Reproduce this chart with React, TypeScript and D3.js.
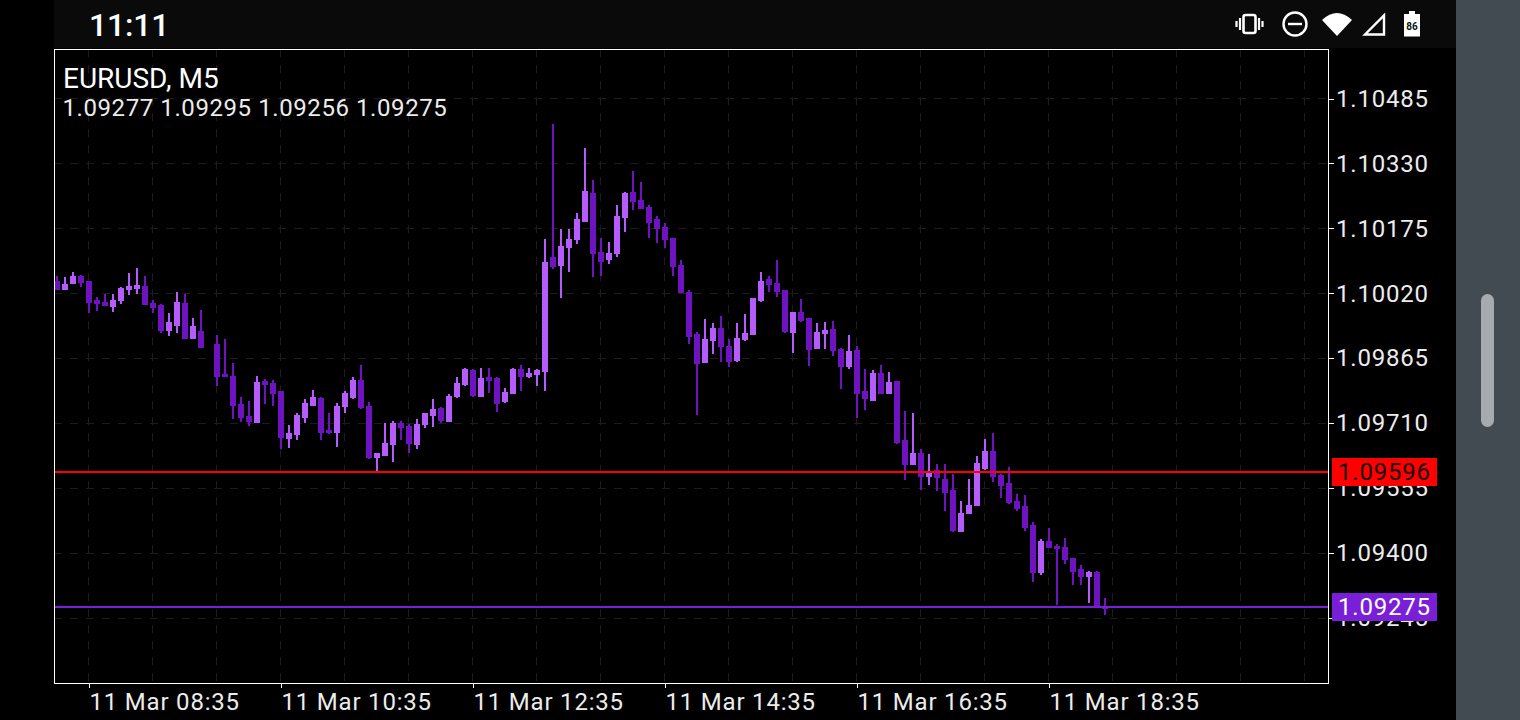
import React, { useEffect, useRef } from 'react';
import * as d3 from 'd3';

// bar 19 prints nothing on the chart, so it stays null
const opens = [
  1.10049, 1.10028, 1.10042, 1.10061, 1.10049, 1.10004, 1.09999, 1.09987, 1.10002, 1.10028,
  1.10030, 1.10037, 1.09997, 1.09992, 1.09930, 1.09942, 1.09997, 1.09911, 1.09930, null,
  1.09899, 1.09827, 1.09823, 1.09756, 1.09727, 1.09710, 1.09811, 1.09806, 1.09787, 1.09672,
  1.09682, 1.09722, 1.09751, 1.09770, 1.09694, 1.09687, 1.09749, 1.09770, 1.09813, 1.09751,
  1.09627, 1.09632, 1.09658, 1.09710, 1.09703, 1.09658, 1.09706, 1.09727, 1.09746, 1.09713,
  1.09773, 1.09801, 1.09837, 1.09773, 1.09820, 1.09818, 1.09761, 1.09780, 1.09839, 1.09820,
  1.09825, 1.09832, 1.10107, 1.10085, 1.10128, 1.10147, 1.10190, 1.10259, 1.10119, 1.10100,
  1.10114, 1.10200, 1.10262, 1.10243, 1.10226, 1.10197, 1.10178, 1.10152, 1.10088, 1.10023,
  1.09923, 1.09854, 1.09906, 1.09937, 1.09894, 1.09858, 1.09909, 1.09920, 1.10002, 1.10054,
  1.10044, 1.10028, 1.09925, 1.09975, 1.09961, 1.09887, 1.09923, 1.09935, 1.09887, 1.09844,
  1.09885, 1.09787, 1.09763, 1.09830, 1.09780, 1.09811, 1.09670, 1.09610, 1.09639, 1.09582,
  1.09598, 1.09577, 1.09551, 1.09450, 1.09494, 1.09512, 1.09601, 1.09644, 1.09587, 1.09567,
  1.09524, 1.09512, 1.09467, 1.09352, 1.09429, 1.09417, 1.09415, 1.09388, 1.09362, 1.09343,
  1.09355, 1.09271,
];
const highs = [
  1.10061, 1.10059, 1.10071, 1.10064, 1.10049, 1.10011, 1.10018, 1.10018, 1.10035, 1.10068,
  1.10080, 1.10061, 1.10004, 1.09994, 1.09973, 1.10023, 1.10018, 1.09961, 1.09980, null,
  1.09920, 1.09911, 1.09854, 1.09773, 1.09763, 1.09823, 1.09815, 1.09813, 1.09787, 1.09706,
  1.09734, 1.09768, 1.09789, 1.09773, 1.09734, 1.09758, 1.09787, 1.09820, 1.09849, 1.09761,
  1.09639, 1.09710, 1.09715, 1.09715, 1.09708, 1.09720, 1.09734, 1.09768, 1.09749, 1.09780,
  1.09820, 1.09842, 1.09839, 1.09842, 1.09842, 1.09820, 1.09794, 1.09842, 1.09849, 1.09842,
  1.09839, 1.10150, 1.10424, 1.10174, 1.10174, 1.10212, 1.10367, 1.10290, 1.10152, 1.10143,
  1.10231, 1.10262, 1.10312, 1.10286, 1.10231, 1.10205, 1.10188, 1.10152, 1.10100, 1.10028,
  1.09928, 1.09959, 1.09949, 1.09966, 1.09911, 1.09949, 1.09971, 1.10009, 1.10071, 1.10061,
  1.10100, 1.10028, 1.09975, 1.10006, 1.09961, 1.09949, 1.09952, 1.09954, 1.09889, 1.09920,
  1.09894, 1.09839, 1.09837, 1.09849, 1.09832, 1.09811, 1.09739, 1.09734, 1.09648, 1.09636,
  1.09612, 1.09612, 1.09589, 1.09524, 1.09577, 1.09632, 1.09672, 1.09687, 1.09589, 1.09605,
  1.09541, 1.09539, 1.09474, 1.09434, 1.09460, 1.09422, 1.09436, 1.09388, 1.09372, 1.09357,
  1.09357, 1.09293,
];
const lows = [
  1.10028, 1.10028, 1.10042, 1.10035, 1.09973, 1.09978, 1.09990, 1.09975, 1.09994, 1.10016,
  1.10018, 1.09992, 1.09973, 1.09925, 1.09918, 1.09925, 1.09911, 1.09911, 1.09889, null,
  1.09799, 1.09820, 1.09720, 1.09713, 1.09703, 1.09710, 1.09756, 1.09751, 1.09648, 1.09651,
  1.09670, 1.09710, 1.09751, 1.09670, 1.09684, 1.09653, 1.09734, 1.09768, 1.09744, 1.09625,
  1.09596, 1.09632, 1.09617, 1.09670, 1.09639, 1.09648, 1.09699, 1.09701, 1.09710, 1.09713,
  1.09770, 1.09799, 1.09773, 1.09773, 1.09782, 1.09737, 1.09758, 1.09780, 1.09787, 1.09818,
  1.09799, 1.09787, 1.10078, 1.10009, 1.10071, 1.10138, 1.10190, 1.10059, 1.10061, 1.10090,
  1.10107, 1.10166, 1.10219, 1.10221, 1.10152, 1.10140, 1.10128, 1.10061, 1.10021, 1.09899,
  1.09730, 1.09854, 1.09875, 1.09856, 1.09844, 1.09856, 1.09906, 1.09920, 1.09999, 1.10023,
  1.10011, 1.09925, 1.09878, 1.09952, 1.09846, 1.09887, 1.09887, 1.09870, 1.09792, 1.09839,
  1.09722, 1.09741, 1.09763, 1.09780, 1.09780, 1.09660, 1.09574, 1.09610, 1.09551, 1.09562,
  1.09548, 1.09500, 1.09450, 1.09450, 1.09494, 1.09512, 1.09598, 1.09570, 1.09532, 1.09517,
  1.09500, 1.09453, 1.09331, 1.09348, 1.09412, 1.09276, 1.09374, 1.09323, 1.09323, 1.09281,
  1.09271, 1.09252,
];
const closes = [
  1.10028, 1.10042, 1.10061, 1.10044, 1.09997, 1.09994, 1.09990, 1.10004, 1.10033, 1.10037,
  1.10040, 1.09992, 1.09985, 1.09930, 1.09952, 1.09999, 1.09911, 1.09942, 1.09889, null,
  1.09820, 1.09820, 1.09751, 1.09722, 1.09713, 1.09808, 1.09801, 1.09780, 1.09675, 1.09687,
  1.09730, 1.09758, 1.09773, 1.09687, 1.09687, 1.09751, 1.09782, 1.09813, 1.09746, 1.09627,
  1.09639, 1.09663, 1.09710, 1.09699, 1.09660, 1.09708, 1.09734, 1.09744, 1.09715, 1.09775,
  1.09806, 1.09839, 1.09775, 1.09818, 1.09811, 1.09756, 1.09785, 1.09839, 1.09820, 1.09830,
  1.09837, 1.10095, 1.10083, 1.10133, 1.10150, 1.10197, 1.10264, 1.10114, 1.10095, 1.10116,
  1.10205, 1.10259, 1.10238, 1.10221, 1.10188, 1.10174, 1.10147, 1.10083, 1.10021, 1.09916,
  1.09852, 1.09911, 1.09937, 1.09892, 1.09856, 1.09913, 1.09925, 1.10009, 1.10049, 1.10040,
  1.10023, 1.09928, 1.09975, 1.09954, 1.09885, 1.09928, 1.09932, 1.09882, 1.09844, 1.09882,
  1.09780, 1.09768, 1.09830, 1.09780, 1.09808, 1.09663, 1.09610, 1.09639, 1.09582, 1.09591,
  1.09579, 1.09544, 1.09453, 1.09496, 1.09515, 1.09615, 1.09644, 1.09582, 1.09560, 1.09520,
  1.09505, 1.09460, 1.09352, 1.09429, 1.09412, 1.09410, 1.09383, 1.09355, 1.09343, 1.09355,
  1.09271, 1.09266,
];

const priceTicks = [1.10485, 1.1033, 1.10175, 1.1002, 1.09865, 1.0971, 1.09555, 1.094, 1.09245];
const timeTickBars = [4, 28, 52, 76, 100, 124];
const timeTickLabels = [
  '11 Mar 08:35',
  '11 Mar 10:35',
  '11 Mar 12:35',
  '11 Mar 14:35',
  '11 Mar 16:35',
  '11 Mar 18:35',
];
const gridBars = d3.range(4, 160, 8);
const levelPrices = [1.09594, 1.09271];
const levelLabels = ['1.09596', '1.09275'];
const levelColors = ['#ff0000', '#7a1fd8'];
const levelText = ['#160000', '#ffffff'];

const FONT = 'Roboto, sans-serif';
const UP = '#b65cff';
const DOWN = '#6d14c0';
const GRID = '#1c1c1c';
const LABEL = '#ececec';

const App = () => {
  const svgRef = useRef<SVGSVGElement>(null);

  useEffect(() => {
    const left = 54;
    const right = 1329;
    const top = 49;
    const bottom = 683;

    const svg = d3.select(svgRef.current);
    svg.selectAll('*').remove();

    const x = d3.scaleLinear().domain([0, 131]).range([57, 1105]);
    const y = d3.scaleLinear().domain([1.10485, 1.09245]).range([98.5, 618]);
    const py = (v: number) => Math.round(y(v));

    // page chrome
    svg.append('rect').attr('width', 1520).attr('height', 720).attr('fill', '#000000');
    svg.append('rect').attr('x', 54).attr('width', 1402).attr('height', 48).attr('fill', '#0a0a0a');
    svg.append('rect').attr('x', 1456).attr('width', 64).attr('height', 720).attr('fill', '#434b52');
    svg.append('rect').attr('x', 1481).attr('y', 294).attr('width', 13).attr('height', 133)
      .attr('rx', 6.5).attr('fill', '#a6abaf');

    // grid
    const grid = svg.append('g').attr('stroke', GRID).attr('stroke-width', 1)
      .attr('stroke-dasharray', '8 8').attr('shape-rendering', 'crispEdges');
    gridBars.forEach((b) => {
      const gx = Math.floor(x(b)) - 0.5;
      if (gx < right) {
        grid.append('line').attr('x1', gx).attr('x2', gx).attr('y1', top).attr('y2', bottom);
      }
    });
    priceTicks.forEach((p) => {
      const gy = Math.floor(y(p)) + 0.5;
      grid.append('line').attr('x1', left).attr('x2', right).attr('y1', gy).attr('y2', gy);
    });

    // candles
    const candles = svg.append('g').attr('shape-rendering', 'crispEdges');
    opens.forEach((o, i) => {
      const c = closes[i];
      const h = highs[i];
      const l = lows[i];
      if (o === null || c === null || h === null || l === null) return;
      const color = c > o ? UP : DOWN;
      const cx = x(i);
      candles.append('rect').attr('x', cx - 1).attr('width', 2)
        .attr('y', py(h)).attr('height', Math.max(1, py(l) - py(h))).attr('fill', color);
      const bodyTop = py(Math.max(o, c));
      const bodyBottom = py(Math.min(o, c));
      candles.append('rect').attr('x', Math.max(cx - 3, left)).attr('width', cx - 3 < left ? cx + 3 - left : 6)
        .attr('y', bodyTop).attr('height', Math.max(1, bodyBottom - bodyTop)).attr('fill', color);
    });

    // axes
    const yAxis = d3.axisRight(y).tickValues(priceTicks).tickSize(5).tickPadding(2)
      .tickFormat((d) => (d as number).toFixed(5));
    const yG = svg.append('g').attr('transform', `translate(${right},0)`).call(yAxis);
    const xAxis = d3.axisBottom(x).tickValues(timeTickBars).tickSize(5).tickPadding(0)
      .tickFormat((d) => timeTickLabels[timeTickBars.indexOf(d as number)]);
    const xG = svg.append('g').attr('transform', `translate(0,${bottom})`).call(xAxis);
    [yG, xG].forEach((g) => {
      g.select('.domain').remove();
      g.selectAll('line').attr('stroke', '#ffffff').attr('shape-rendering', 'crispEdges');
      g.selectAll('text').attr('fill', LABEL).style('font-family', FONT)
        .style('font-size', '24px').style('letter-spacing', '0.8px');
    });
    xG.selectAll('.tick line').attr('transform', 'translate(-0.5,0)');
    xG.selectAll('text').attr('text-anchor', 'start').attr('x', 0).attr('y', 10).attr('dy', '0.71em');

    // last price lines and their tags
    levelPrices.forEach((p, i) => {
      const ly = py(p);
      svg.append('rect').attr('x', left).attr('width', right - left).attr('y', ly - 1).attr('height', 2)
        .attr('fill', levelColors[i]);
      svg.append('rect').attr('x', 1332).attr('width', 105).attr('y', ly - 14).attr('height', 28)
        .attr('fill', levelColors[i]);
      svg.append('text').attr('x', 1338).attr('y', ly + 8).attr('fill', levelText[i])
        .style('font-family', FONT).style('font-size', '24px').style('letter-spacing', '0.8px')
        .text(levelLabels[i]);
    });

    // frame
    svg.append('rect').attr('x', left + 0.5).attr('y', top + 0.5)
      .attr('width', right - left - 1).attr('height', bottom - top)
      .attr('fill', 'none').attr('stroke', '#ffffff').attr('shape-rendering', 'crispEdges');

    // header text
    svg.append('text').attr('x', 63).attr('y', 88).attr('fill', '#ffffff')
      .style('font-family', FONT).style('font-size', '28px').text('EURUSD, M5');
    svg.append('text').attr('x', 62.500).attr('y', 116).attr('fill', LABEL)
      .style('font-family', FONT).style('font-size', '24px').style('letter-spacing', '0.58px')
      .text('1.09277 1.09295 1.09256 1.09275');
    svg.append('text').attr('x', 89).attr('y', 36).attr('fill', '#ffffff')
      .style('font-family', FONT).style('font-size', '32px').style('font-weight', 500)
      .style('letter-spacing', '-0.2px').text('11:11');

    // status icons
    const icons = svg.append('g').attr('fill', 'none').attr('stroke', '#ffffff');
    icons.append('rect').attr('x', 1243.5).attr('y', 15).attr('width', 12).attr('height', 18)
      .attr('rx', 2).attr('stroke-width', 2.6);
    icons.append('path').attr('stroke-width', 2.2)
      .attr('d', 'M1240 18v12M1236.5 21v6M1259 18v12M1262.500 21v6');
    icons.append('circle').attr('cx', 1295).attr('cy', 24).attr('r', 11.500).attr('stroke-width', 2.4);
    icons.append('path').attr('stroke-width', 2.4).attr('d', 'M1288 24h14');
    icons.append('path').attr('fill', '#ffffff').attr('stroke', 'none')
      .attr('d', 'M1322 20Q1337 6 1352 20L1337 36Z');
    icons.append('path').attr('stroke-width', 2.4).attr('stroke-linejoin', 'miter')
      .attr('d', 'M1365 34.500L1384 15.500V34.500Z');
    icons.append('path').attr('fill', '#ffffff').attr('stroke', 'none')
      .attr('d', 'M1404 14h5v-3h6v3h5V36.500h-16Z');
    svg.append('text').attr('x', 1412).attr('y', 29.500).attr('text-anchor', 'middle').attr('fill', '#111111')
      .style('font-family', FONT).style('font-size', '10px').style('font-weight', 700).text('86');
  }, []);

  return (
    <svg
      ref={svgRef}
      width={1520}
      height={720}
      style={{ position: 'fixed', left: 0, top: 0, display: 'block' }}
    ></svg>
  );
};

export default App;
